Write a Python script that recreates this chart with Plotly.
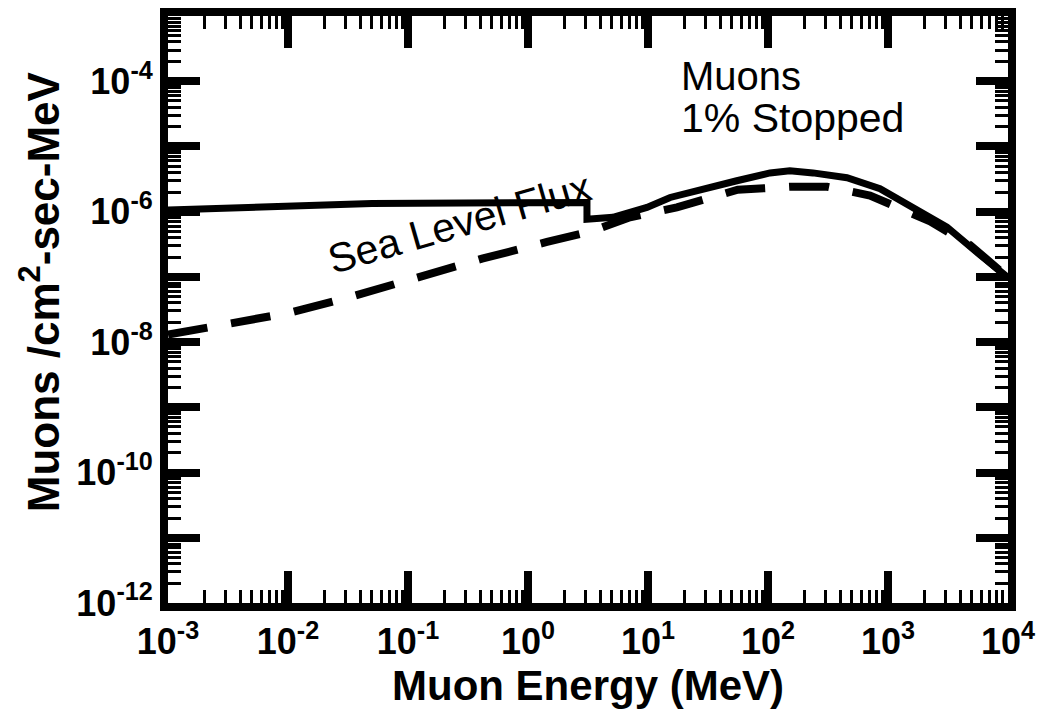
import math
import plotly.graph_objects as go

# Muon differential flux spectra
energy_stopped = [1e-3, 0.05, 3.1, 3.1, 5.1, 9.8, 15.3, 28.7, 55, 104, 152, 237,
                  455, 858, 1615, 3100, 5840, 1e4]
flux_stopped = [1.06e-6, 1.34e-6, 1.38e-6, 7.65e-7, 8.2e-7, 1.16e-6, 1.65e-6,
                2.25e-6, 2.98e-6, 3.93e-6, 4.22e-6, 3.93e-6, 3.31e-6, 2.25e-6,
                1.12e-6, 5.8e-7, 2.18e-7, 9.8e-8]

energy_sea = [1e-3, 2.82e-3, 0.01, 0.0348, 0.119, 0.414, 1.44, 3.41, 7.08, 17.4,
              56, 152, 310, 708, 2240, 4820, 1e4]
flux_sea = [1.30e-8, 1.84e-8, 2.79e-8, 5.05e-8, 9.8e-8, 1.90e-7, 3.43e-7, 5.04e-7,
            8.2e-7, 1.16e-6, 2.17e-6, 2.41e-6, 2.41e-6, 1.77e-6, 7.1e-7, 3.09e-7,
            9.8e-8]

x_exponents = list(range(-3, 5))
y_exponents = list(range(-12, -2))

FONT = "Liberation Sans, Arial, sans-serif"

x_major = [10.0 ** e for e in x_exponents]
x_text = ["10<sup>%d</sup>" % e for e in x_exponents]
y_major = [10.0 ** e for e in y_exponents]
y_text = ["10<sup>%d</sup>" % e if e % 2 == 0 and e < -3 else "" for e in y_exponents]

x_minor = [m * 10.0 ** e for e in x_exponents[:-1] for m in range(2, 10)]
y_minor = [m * 10.0 ** e for e in y_exponents[:-1] for m in range(2, 10)]

fig = go.Figure()
fig.add_trace(go.Scatter(x=energy_sea, y=flux_sea, mode="lines",
                         line=dict(color="black", width=8, dash="40px,24px"),
                         showlegend=False))
fig.add_trace(go.Scatter(x=energy_stopped, y=flux_stopped, mode="lines",
                         line=dict(color="black", width=7),
                         showlegend=False))

axis_common = dict(
    type="log", showgrid=False, zeroline=False,
    showline=True, linewidth=8, linecolor="black", mirror="allticks",
    ticks="inside", ticklen=32, tickwidth=8, tickcolor="black",
    tickmode="array",
    tickfont=dict(family=FONT, size=36, color="black", weight="bold"),
)

fig.update_xaxes(
    **axis_common, range=[-3, 4], tickvals=x_major, ticktext=x_text,
    minor=dict(tickmode="array", tickvals=x_minor, ticks="inside", ticklen=13,
               tickwidth=2.5, tickcolor="black", showgrid=False),
    title=dict(text="Muon Energy (MeV)", standoff=4,
               font=dict(family=FONT, size=42, color="black", weight="bold")),
)
fig.update_yaxes(
    **axis_common, range=[-12, -3], tickvals=y_major, ticktext=y_text,
    minor=dict(tickmode="array", tickvals=y_minor, ticks="inside", ticklen=13,
               tickwidth=2.5, tickcolor="black", showgrid=False),
)

# Vertical axis title
fig.add_annotation(x=-0.152, y=0.53, xref="paper", yref="paper",
                   text="Muons /cm<sup>2</sup>-sec-MeV", textangle=-90,
                   xanchor="center", yanchor="middle", showarrow=False,
                   font=dict(family=FONT, size=44, color="black", weight="bold"))

# Curve label along the sea-level spectrum
fig.add_annotation(x=math.log10(0.27), y=math.log10(6.6e-7), xref="x", yref="y",
                   text="Sea Level Flux", textangle=-16, showarrow=False,
                   font=dict(family=FONT, size=41, color="black"))

# Plot caption, two lines
fig.add_annotation(x=0.608, y=0.897, xref="paper", yref="paper", text="Muons",
                   xanchor="left", yanchor="middle", showarrow=False,
                   font=dict(family=FONT, size=40, color="black"))
fig.add_annotation(x=0.608, y=0.826, xref="paper", yref="paper", text="1% Stopped",
                   xanchor="left", yanchor="middle", showarrow=False,
                   font=dict(family=FONT, size=41, color="black"))

fig.update_layout(
    width=1044, height=713,
    margin=dict(l=168, r=36, t=8, b=110),
    paper_bgcolor="white", plot_bgcolor="white",
)

fig.write_html("out.html")
